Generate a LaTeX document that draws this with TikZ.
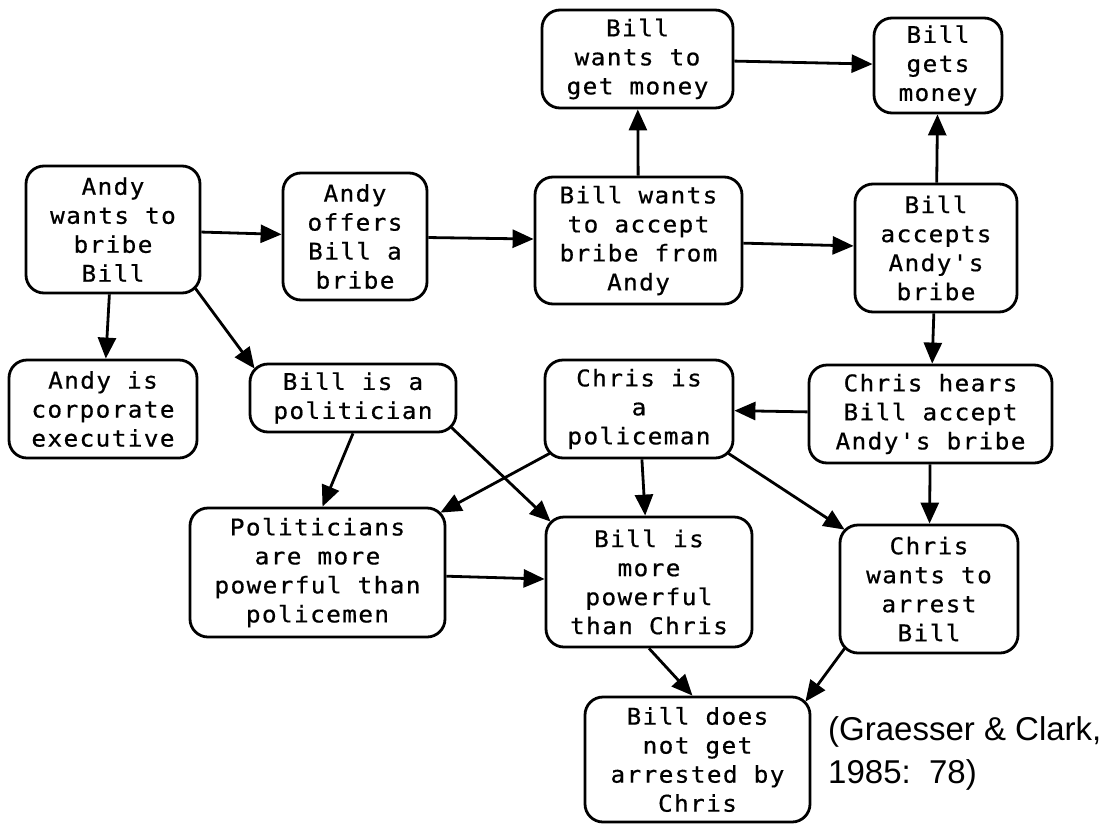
\documentclass[tikz,border=0pt]{standalone}
\usepackage{fontspec}
\usetikzlibrary{arrows.meta,calc}
\newfontfamily\boxfont{DejaVu Sans Mono}[LetterSpace=6,FakeStretch=1.06,FakeBold=0.6]
\newfontfamily\citefont{Liberation Sans}

\tikzset{
  ev/.style={draw, line width=2.8pt, rounded corners=18pt, align=center,
             inner sep=0pt, font=\boxfont\fontsize{23}{29}\selectfont},
  arr/.style={line width=2.8pt, -{Triangle[length=21pt,width=18pt]}},
  cite/.style={anchor=base west, inner sep=0pt,
               font=\citefont\fontsize{33}{43}\selectfont}
}

\begin{document}
\begin{tikzpicture}[x=1pt,y=-1pt]
  \fill[white] (0,0) rectangle (1108,825);
  \useasboundingbox (0,0) rectangle (1108,825);

  % events
  \node[ev, minimum width=191, minimum height=98]  (b1)  at (637.5,59)   {Bill\\wants to\\get money};
  \node[ev, minimum width=128, minimum height=95]  (b2)  at (938,65.5)   {Bill\\gets\\money};
  \node[ev, minimum width=174, minimum height=127] (a3)  at (113,229.5)  {Andy\\wants to\\bribe\\Bill};
  \node[ev, minimum width=144, minimum height=127] (a4)  at (355,236.5)  {Andy\\offers\\Bill a\\bribe};
  \node[ev, minimum width=207, minimum height=127] (b5)  at (638.5,240.5){Bill wants\\to accept\\bribe from\\Andy};
  \node[ev, minimum width=162, minimum height=128] (b6)  at (936,248)    {Bill\\accepts\\Andy's\\bribe};
  \node[ev, minimum width=188, minimum height=98]  (a7)  at (103,409)    {Andy is\\corporate\\executive};
  \node[ev, minimum width=206, minimum height=68]  (b8)  at (353,398)    {Bill is a\\politician};
  \node[ev, minimum width=188, minimum height=98]  (c9)  at (639,409)    {Chris is\\a\\policeman};
  \node[ev, minimum width=243, minimum height=98]  (c10) at (930.5,414)  {Chris hears\\Bill accept\\Andy's bribe};
  \node[ev, minimum width=255, minimum height=129] (p11) at (317.5,572.5){Politicians\\are more\\powerful than\\policemen};
  \node[ev, minimum width=206, minimum height=130] (b12) at (649,582)    {Bill is\\more\\powerful\\than Chris};
  \node[ev, minimum width=178, minimum height=128] (c13) at (929,589)    {Chris\\wants to\\arrest\\Bill};
  \node[ev, minimum width=225, minimum height=125] (b14) at (697.5,759.5){Bill does\\not get\\arrested by\\Chris};

  % source
  \node[cite] (cite1) at (828,740) {(Graesser \& Clark,};
  \node[cite] (cite2) at (828,783) {1985:\ \ 78)};

  % links
  \draw[arr] (a3) -- (a4);
  \draw[arr] (a4) -- (b5);
  \draw[arr] (b5) -- (b1);
  \draw[arr] (b1) -- (b2);
  \draw[arr] (b5) -- (b6);
  \draw[arr] (b6) -- (b2);
  \draw[arr] (a3) -- (a7);
  \draw[arr] ($(a3.south east)+(-6,-6)$) -- ($(b8.north west)+(6,6)$);
  \draw[arr] (b6) -- (c10);
  \draw[arr] (c10) -- (c9);
  \draw[arr] (b8.south) -- ($(p11.north)+(5,0)$);
  \draw[arr] ($(b8.south east)+(-6,-6)$) -- ($(b12.north west)+(6,6)$);
  \draw[arr] ($(c9.south west)+(6,-6)$) -- ($(p11.north east)+(-6,6)$);
  \draw[arr] (c9) -- (b12);
  \draw[arr] ($(c9.south east)+(-6,-6)$) -- ($(c13.north west)+(6,6)$);
  \draw[arr] (c10) -- (c13);
  \draw[arr] (p11) -- (b12);
  \draw[arr] (b12.south) -- ($(b14.north)+(-5,0)$);
  \draw[arr] ($(c13.south west)+(6,-6)$) -- ($(b14.north east)+(-6,6)$);
\end{tikzpicture}
\end{document}
